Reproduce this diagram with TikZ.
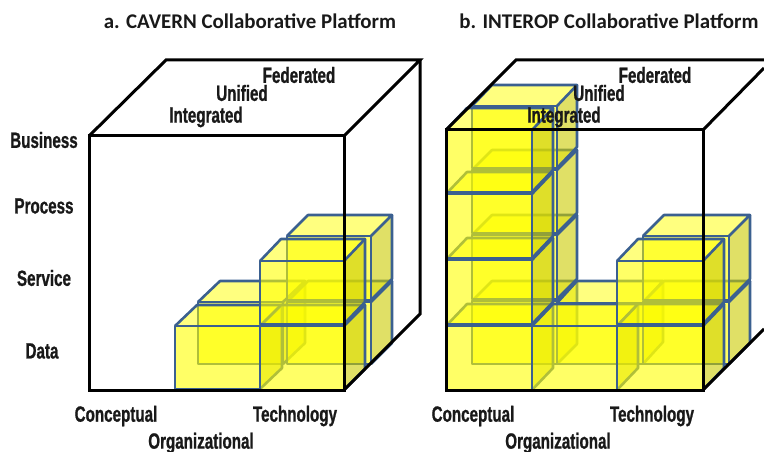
\documentclass[tikz,border=0pt]{standalone}
\usepackage{fontspec}
\setmainfont{Carlito}
\newfontfamily\condfont[FakeStretch=0.69,FakeBold=0.9]{Liberation Sans}
\definecolor{edgeblue}{HTML}{3B6090}
\definecolor{cubeyellow}{RGB}{255,255,0}
\definecolor{cubeside}{RGB}{203,203,0}
\tikzset{
  frameline/.style={draw=black,line width=3pt,line join=miter},
  facefront/.style={fill=cubeyellow,fill opacity=.6},
  facetop/.style={fill=cubeyellow,fill opacity=.5},
  faceside/.style={fill=cubeside,fill opacity=.6},
  cubeline/.style={draw=edgeblue,line width=2.6pt,line join=round},
  axislabel/.style={font=\condfont\bfseries\fontsize{22}{24}\selectfont,inner sep=0pt,text=black!90},
  titlelabel/.style={font=\bfseries\fontsize{20.9}{24}\selectfont,inner sep=0pt,text=black!90},
}
% #1 x, #2 y of front top-left, #3 width, #4 height, #5 depth x, #6 depth y
\newcommand{\boxcube}[6]{%
  \path[facefront] (#1,#2) rectangle ++(#3,#4);
  \path[facetop] (#1,#2) -- ++(#5,-#6) -- ++(#3,0) -- ++(-#5,#6) -- cycle;
  \path[faceside] (#1+#3,#2) -- ++(#5,-#6) -- ++(0,#4) -- ++(-#5,#6) -- cycle;
  \draw[cubeline] (#1,#2) rectangle ++(#3,#4);
  \draw[cubeline] (#1,#2) -- ++(#5,-#6) -- ++(#3,0) -- ++(-#5,#6);
  \draw[cubeline] (#1+#3+#5,#2-#6) -- ++(0,#4) -- ++(-#5,#6);
}
\begin{document}
\begin{tikzpicture}[x=1pt,y=-1pt]
\useasboundingbox (0,0) rectangle (764,452);
% left platform
\boxcube{198}{302}{85}{62}{22}{21}
\boxcube{287}{302}{84}{62}{21}{21}
\boxcube{287}{236}{84}{64}{21}{21}
\boxcube{175}{326}{85}{63}{22}{21}
\boxcube{260}{326}{84}{64}{21}{21}
\boxcube{260}{261}{84}{63}{21}{22}
\draw[frameline] (89,136) rectangle (344,390);
\draw[frameline] (89,136) -- (166,60) -- (420,60) -- (344,136);
\draw[frameline] (420,60) -- (420,314) -- (344,390);
% right platform
\boxcube{472}{301}{85}{63}{20}{20}
\boxcube{472}{235}{85}{64}{20}{20}
\boxcube{472}{170}{85}{63}{20}{20}
\boxcube{472}{106}{85}{62}{20}{21}
\boxcube{557}{303}{86}{61}{20}{22}
\boxcube{643}{302}{86}{62}{21}{21}
\boxcube{643}{236}{86}{64}{21}{21}
\boxcube{446}{326}{86}{64}{21}{22}
\boxcube{446}{260}{86}{64}{21}{22}
\boxcube{446}{194}{86}{64}{21}{22}
\boxcube{446}{130}{86}{62}{21}{22}
\boxcube{532}{326}{85}{64}{21}{22}
\boxcube{617}{326}{86}{64}{21}{22}
\boxcube{617}{261}{86}{63}{21}{22}
\draw[frameline] (446,130) rectangle (703,390);
\draw[frameline] (446,130) -- (516,60) -- (764,60);
\draw[frameline] (703,130) -- (764,68);
\draw[frameline] (703,390) -- (764,329);
% titles
\node[titlelabel] (t1) at (250,21) {a. CAVERN Collaborative Platform};
\node[titlelabel] (t2) at (609,21) {b. INTEROP Collaborative Platform};
% left labels
\node[axislabel] (b) at (44,140) {Business};
\node[axislabel] (p) at (44,206) {Process};
\node[axislabel] (s) at (44,278) {Service};
\node[axislabel] (d) at (42,351) {Data};
\node[axislabel] (f1) at (299,75) {Federated};
\node[axislabel] (u1) at (242,93) {Unified};
\node[axislabel] (i1) at (206,117) {Integrated};
\node[axislabel] (c1) at (116,416) {Conceptual};
\node[axislabel] (te1) at (295,416) {Technology};
\node[axislabel] (o1) at (201,443) {Organizational};
% right labels
\node[axislabel] (f2) at (655,75) {Federated};
\node[axislabel] (u2) at (599,93) {Unified};
\node[axislabel] (i2) at (564,117) {Integrated};
\node[axislabel] (c2) at (473,416) {Conceptual};
\node[axislabel] (te2) at (652,416) {Technology};
\node[axislabel] (o2) at (558,443) {Organizational};
\end{tikzpicture}
\end{document}
